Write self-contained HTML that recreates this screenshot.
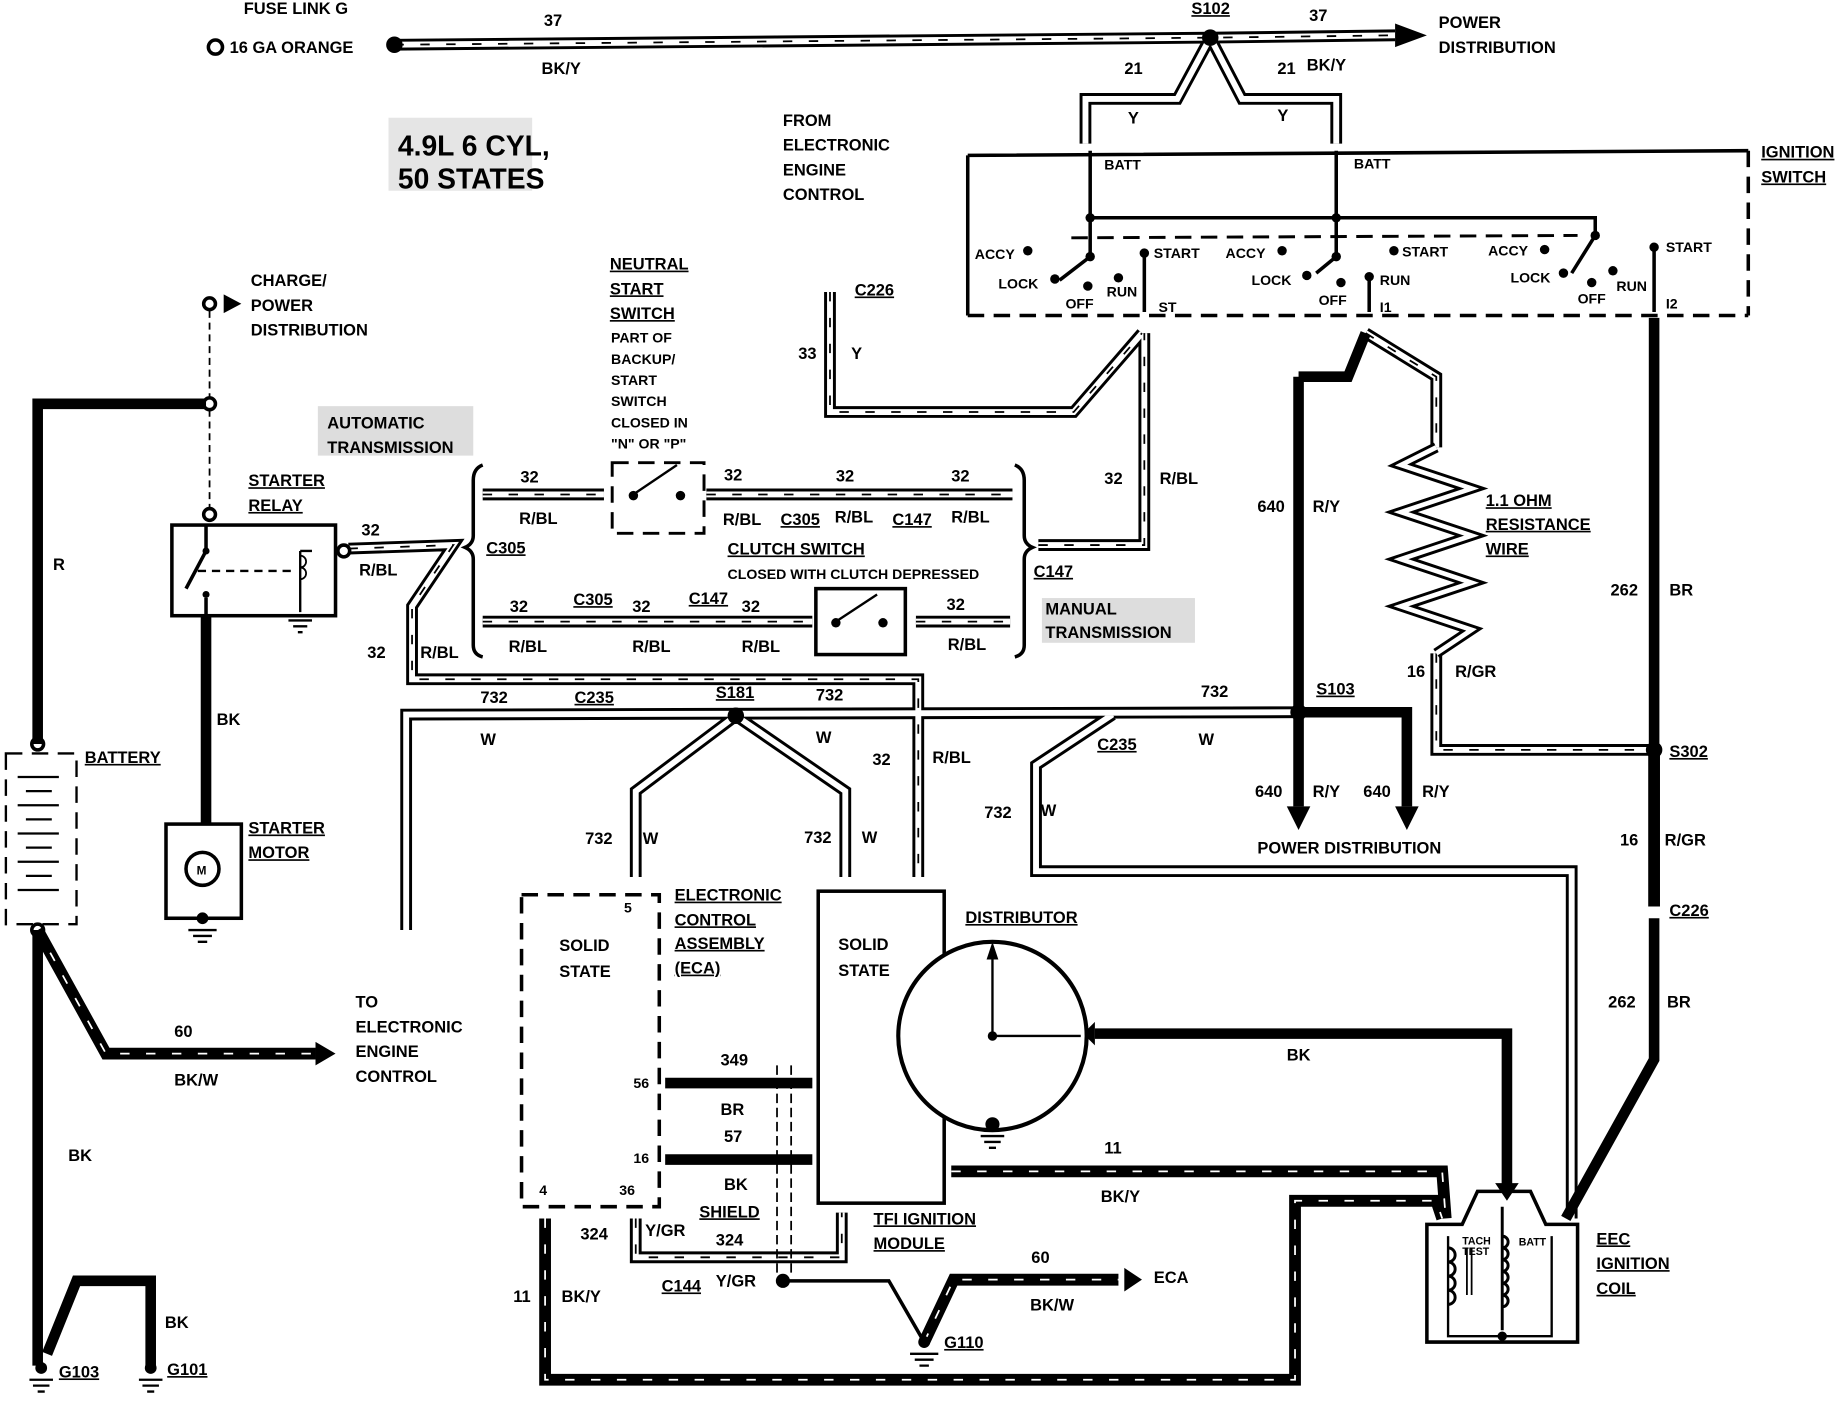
<!DOCTYPE html>
<html><head><meta charset="utf-8"><style>
html,body{margin:0;padding:0;background:#fff}
svg{display:block}
text{font-family:"Liberation Sans",sans-serif;font-weight:bold;font-size:14px;fill:#000}
path{fill:none}
.w{fill:none;stroke:#000;stroke-width:9;stroke-linejoin:miter}
.so{fill:none;stroke:#000;stroke-width:10;stroke-linejoin:miter}
.si{fill:none;stroke:#fff;stroke-width:5;stroke-linejoin:miter}
.sd{fill:none;stroke:#000;stroke-width:1.5;stroke-dasharray:8 14}
.wd{fill:none;stroke:#fff;stroke-width:1.5;stroke-dasharray:8 14}
.l{fill:none;stroke:#000;stroke-width:3}
.d{fill:none;stroke:#000;stroke-width:3;stroke-dasharray:14 8}
.t{fill:none;stroke:#000;stroke-width:1.5}
.u{text-decoration:underline}
.f{fill:#000}
</style></head><body>
<svg width="1846" height="1408" viewBox="0 0 1568 1196" preserveAspectRatio="none" xmlns="http://www.w3.org/2000/svg">
<defs>
<path id="p1" fill="none" d="M335,38 L1028,32 L1185,30"/>
<path id="p2" fill="none" d="M1028,32 L1000,84 L922,84 L922,122 M1028,32 L1055,84 L1135,84 L1135,122"/>
<path id="p3" fill="none" d="M296,466 L385,463 L350,515 L350,577 L780,577 L780,745"/>
<path id="p4" fill="none" d="M410,420 L513,420 M600,420 L860,420 M410,528 L690,528 M778,528 L858,528"/>
<path id="p5" fill="none" d="M882,463 L972,463 L972,283"/>
<path id="p6" fill="none" d="M705,248 L705,350 L912,350 L970,283"/>
<path id="p7" fill="none" d="M345,790 L345,607 L1103,605 M625,608 L540,672 L540,745 M625,608 L718,672 L718,745 M945,607 L880,650 L880,740 L1335,740 L1335,1035"/>
<path id="p8" fill="none" d="M1160,283 L1220,320 L1220,380 M1220,555 L1220,637 L1405,637 L1405,770"/>
<path id="p9" fill="none" d="M540,1035 L540,1068 L715,1068 L715,1030"/>
<path id="p10" fill="none" d="M808,995 L1225,995 L1228,1035"/>
<path id="p11" fill="none" d="M463,1035 L463,1172 L1100,1172 L1100,1020 L1220,1020 L1225,1035"/>
<path id="p12" fill="none" d="M785,1140 L810,1087 L950,1087"/>
<path id="p13" fill="none" d="M32,790 L90,895 L268,895"/>
</defs>
<g class="so"><use href="#p1"/><use href="#p2"/><use href="#p3"/><use href="#p4"/><use href="#p5"/><use href="#p6"/><use href="#p7"/><use href="#p8"/><use href="#p9"/><use href="#p10"/><use href="#p11"/><use href="#p12"/><use href="#p13"/></g>
<g class="si"><use href="#p1"/><use href="#p2"/><use href="#p3"/><use href="#p4"/><use href="#p5"/><use href="#p6"/><use href="#p7"/><use href="#p8"/><use href="#p9"/></g>
<g class="sd"><use href="#p1"/><use href="#p3"/><use href="#p4"/><use href="#p5"/><use href="#p6"/><use href="#p8"/><use href="#p9"/></g>
<g class="wd"><use href="#p10"/><use href="#p11"/><use href="#p12"/><use href="#p13"/></g>
<!-- solid thick wires -->
<path class="w" d="M32,632 L32,343 L175,343"/>
<path class="w" d="M175,523 L175,700"/>
<path class="w" d="M32,790 L32,1160 M40,1150 L65,1088 L128,1088 L128,1160"/>
<path class="w" d="M1103,320 L1103,685 M1103,605 L1195,605 L1195,685 M1103,320 L1145,320 L1160,283"/>
<path class="w" d="M1405,270 L1405,770 M1405,780 L1405,900 L1330,1035"/>
<path class="w" d="M930,878 L1280,878 L1280,1010"/>
<path class="w" d="M565,920 L690,920 M565,985 L690,985"/>
<!-- arrowheads -->
<path class="f" d="M1185,20 L1212,30 L1185,40 Z M1093,685 L1103,705 L1113,685 Z M1185,685 L1195,705 L1205,685 Z M268,885 L268,905 L285,895 Z M955,1077 L955,1097 L970,1087 Z M1270,1005 L1280,1020 L1290,1005 Z M930,868 L920,878 L930,888 Z M190,250 L205,258 L190,266 Z"/>
<!-- top -->
<circle class="l" cx="183" cy="40" r="6" fill="#fff"/><circle cx="335" cy="38" r="7"/><circle cx="1028" cy="32" r="7"/>
<text x="207" y="12">FUSE LINK G</text><text x="195" y="45">16 GA ORANGE</text>
<text x="462" y="22">37</text><text x="460" y="63">BK/Y</text>
<text x="1012" y="12" class="u">S102</text><text x="1112" y="18">37</text><text x="1110" y="60">BK/Y</text>
<text x="1222" y="24">POWER</text><text x="1222" y="45">DISTRIBUTION</text>
<text x="955" y="63">21</text><text x="1085" y="63">21</text><text x="958" y="105">Y</text><text x="1085" y="103">Y</text>
<rect x="330" y="100" width="122" height="62" fill="#ccc" opacity="0.5"/>
<text x="338" y="132" style="font-size:24px">4.9L 6 CYL,</text><text x="338" y="160" style="font-size:24px">50 STATES</text>
<text x="665" y="107">FROM</text><text x="665" y="128">ELECTRONIC</text><text x="665" y="149">ENGINE</text><text x="665" y="170">CONTROL</text>
<!-- ignition switch -->
<path class="l" d="M822,132 L1485,128 M822,132 L822,268"/>
<path class="d" d="M822,268 L1485,268 M1485,128 L1485,268"/>
<path class="l" d="M926,128 L926,185 L1355,185 L1355,200 M1135,128 L1135,185"/>
<path class="l" d="M926,185 L926,218 L900,238 M1135,185 L1135,218 L1118,232 M1355,200 L1335,232"/>
<path class="d" d="M910,202 L1340,200" style="stroke-width:2.5"/>
<path class="l" d="M972,215 L972,265 M1163,235 L1163,265 M1405,210 L1405,265"/>
<g><circle cx="926" cy="185" r="4"/><circle cx="926" cy="218" r="4"/><circle cx="1135" cy="185" r="4"/><circle cx="1135" cy="218" r="4"/><circle cx="1355" cy="200" r="4"/>
<circle cx="873" cy="213" r="4"/><circle cx="896" cy="237" r="4"/><circle cx="924" cy="243" r="4"/><circle cx="950" cy="236" r="4"/><circle cx="972" cy="215" r="4"/>
<circle cx="1089" cy="213" r="4"/><circle cx="1110" cy="234" r="4"/><circle cx="1139" cy="240" r="4"/><circle cx="1163" cy="235" r="4"/><circle cx="1184" cy="213" r="4"/>
<circle cx="1312" cy="212" r="4"/><circle cx="1328" cy="232" r="4"/><circle cx="1352" cy="240" r="4"/><circle cx="1370" cy="230" r="4"/><circle cx="1405" cy="210" r="4"/></g>
<g><text x="938" y="144" style="font-size:12px">BATT</text><text x="1150" y="143" style="font-size:12px">BATT</text>
<text x="828" y="220" style="font-size:12px">ACCY</text><text x="848" y="245" style="font-size:12px">LOCK</text><text x="905" y="262" style="font-size:12px">OFF</text><text x="940" y="252" style="font-size:12px">RUN</text><text x="980" y="219" style="font-size:12px">START</text><text x="984" y="265" style="font-size:12px">ST</text>
<text x="1041" y="219" style="font-size:12px">ACCY</text><text x="1063" y="242" style="font-size:12px">LOCK</text><text x="1120" y="259" style="font-size:12px">OFF</text><text x="1172" y="242" style="font-size:12px">RUN</text><text x="1191" y="218" style="font-size:12px">START</text><text x="1172" y="265" style="font-size:12px">I1</text>
<text x="1264" y="217" style="font-size:12px">ACCY</text><text x="1283" y="240" style="font-size:12px">LOCK</text><text x="1340" y="258" style="font-size:12px">OFF</text><text x="1373" y="247" style="font-size:12px">RUN</text><text x="1415" y="214" style="font-size:12px">START</text><text x="1415" y="262" style="font-size:12px">I2</text></g>
<text x="1496" y="134" class="u">IGNITION</text><text x="1496" y="155" class="u">SWITCH</text>
<!-- C226 Y -->
<text x="726" y="251" class="u">C226</text><text x="678" y="305">33</text><text x="723" y="305">Y</text>
<!-- left -->
<circle class="l" cx="178" cy="258" r="5" fill="#fff"/><path d="M178,264 L178,338 M178,348 L178,432" stroke="#000" stroke-width="1.5" stroke-dasharray="6 4"/>
<circle class="l" cx="178" cy="343" r="5" fill="#fff"/><circle class="l" cx="178" cy="437" r="5" fill="#fff"/>
<text x="213" y="243">CHARGE/</text><text x="213" y="264">POWER</text><text x="213" y="285">DISTRIBUTION</text>
<text x="45" y="484">R</text>
<rect x="270" y="345" width="132" height="42" fill="#ddd"/>
<text x="278" y="364">AUTOMATIC</text><text x="278" y="385">TRANSMISSION</text>
<text x="211" y="413" class="u">STARTER</text><text x="211" y="434" class="u">RELAY</text>
<rect class="l" x="146" y="446" width="139" height="77" fill="none"/>
<circle class="l" cx="292" cy="468" r="5" fill="#fff"/>
<path class="l" d="M175,446 L175,468 L158,500 M175,508 L175,523"/>
<circle cx="175" cy="468" r="3"/><circle cx="175" cy="505" r="3"/>
<path d="M168,485 L250,485" stroke="#000" stroke-width="2" stroke-dasharray="7 5"/>
<path class="l" d="M255,468 L265,468 M255,468 L255,520 M245,527 L265,527 M249,532 L261,532 M253,537 L257,537" style="stroke-width:2"/>
<path class="t" d="M255,472 a5,5 0 0 1 0,10 a5,5 0 0 1 0,10"/>
<text x="307" y="455">32</text><text x="305" y="489">R/BL</text>
<text x="312" y="559">32</text><text x="357" y="559">R/BL</text>
<text x="184" y="616">BK</text>
<!-- battery -->
<rect x="5" y="640" width="60" height="145" fill="none" stroke="#000" stroke-width="2" stroke-dasharray="14 8"/>
<circle class="l" cx="32" cy="632" r="5" fill="#fff"/><circle class="l" cx="32" cy="790" r="5" fill="#fff"/>
<path d="M15,660 H50 M22,672 H44 M15,684 H50 M22,696 H44 M15,708 H50 M22,720 H44 M15,732 H50 M22,744 H44 M15,756 H50" stroke="#000" stroke-width="2"/>
<text x="72" y="648" class="u">BATTERY</text>
<!-- starter motor -->
<rect class="l" x="141" y="700" width="64" height="80" fill="#fff"/>
<circle class="l" cx="172" cy="738" r="14" fill="#fff"/><text x="167" y="743" style="font-size:10px">M</text>
<circle cx="172" cy="780" r="5"/><path d="M160,790 H184 M164,795 H180 M168,800 H176" stroke="#000" stroke-width="2"/>
<text x="211" y="708" class="u">STARTER</text><text x="211" y="729" class="u">MOTOR</text>
<text x="148" y="881">60</text><text x="148" y="922">BK/W</text>
<text x="302" y="856">TO</text><text x="302" y="877">ELECTRONIC</text><text x="302" y="898">ENGINE</text><text x="302" y="919">CONTROL</text>
<text x="58" y="986">BK</text><text x="140" y="1128">BK</text>
<circle cx="35" cy="1162" r="5"/><circle cx="128" cy="1162" r="5"/>
<path d="M25,1172 H45 M28,1177 H42 M32,1182 H38 M118,1172 H138 M121,1177 H135 M125,1182 H131" stroke="#000" stroke-width="2"/>
<text x="50" y="1170" class="u">G103</text><text x="142" y="1168" class="u">G101</text>
<!-- brackets & switches -->
<path class="l" d="M410,395 Q402,398 402,408 L402,455 Q402,462 395,465 Q402,468 402,475 L402,548 Q402,556 410,558"/>
<path class="l" d="M862,395 Q870,398 870,408 L870,455 Q870,462 877,465 Q870,468 870,475 L870,548 Q870,556 862,558"/>
<text x="413" y="470" class="u">C305</text>
<rect x="520" y="393" width="78" height="60" fill="#fff" stroke="#000" stroke-width="2.5" stroke-dasharray="14 8"/>
<path d="M538,420 L575,395" stroke="#000" stroke-width="2"/><circle cx="538" cy="421" r="4"/><circle cx="578" cy="421" r="4"/>
<text x="518" y="229" class="u">NEUTRAL</text><text x="518" y="250" class="u">START</text><text x="518" y="271" class="u">SWITCH</text>
<g><text x="519" y="291" style="font-size:12px">PART OF</text><text x="519" y="309" style="font-size:12px">BACKUP/</text><text x="519" y="327" style="font-size:12px">START</text><text x="519" y="345" style="font-size:12px">SWITCH</text><text x="519" y="363" style="font-size:12px">CLOSED IN</text><text x="519" y="381" style="font-size:12px">"N" OR "P"</text></g>
<text x="442" y="410">32</text><text x="441" y="445">R/BL</text>
<text x="615" y="408">32</text><text x="614" y="446">R/BL</text><text x="663" y="446" class="u">C305</text>
<text x="710" y="409">32</text><text x="709" y="444">R/BL</text><text x="758" y="446" class="u">C147</text>
<text x="808" y="409">32</text><text x="808" y="444">R/BL</text>
<text x="618" y="471" class="u">CLUTCH SWITCH</text><text x="618" y="492" style="font-size:12px">CLOSED WITH CLUTCH DEPRESSED</text>
<rect class="l" x="693" y="500" width="76" height="56" fill="#fff"/>
<path d="M710,528 L745,505" stroke="#000" stroke-width="2"/><circle cx="710" cy="529" r="4"/><circle cx="750" cy="529" r="4"/>
<text x="433" y="520">32</text><text x="432" y="554">R/BL</text><text x="487" y="514" class="u">C305</text>
<text x="537" y="520">32</text><text x="537" y="554">R/BL</text><text x="585" y="513" class="u">C147</text>
<text x="630" y="520">32</text><text x="630" y="554">R/BL</text>
<text x="804" y="518">32</text><text x="805" y="552">R/BL</text>
<text x="878" y="490" class="u">C147</text>
<rect x="885" y="508" width="130" height="38" fill="#ddd"/>
<text x="888" y="522">MANUAL</text><text x="888" y="542">TRANSMISSION</text>
<text x="938" y="411">32</text><text x="985" y="411">R/BL</text>
<!-- mid -->
<text x="408" y="597">732</text><text x="488" y="597" class="u">C235</text><text x="608" y="593" class="u">S181</text><text x="693" y="595">732</text>
<text x="408" y="633">W</text><text x="693" y="631">W</text><text x="741" y="650">32</text><text x="792" y="648">R/BL</text>
<circle cx="625" cy="608" r="7"/><circle cx="1103" cy="605" r="7"/><circle cx="1405" cy="637" r="7"/>
<text x="1020" y="592">732</text><text x="1118" y="590" class="u">S103</text><text x="1018" y="633">W</text><text x="932" y="637" class="u">C235</text>
<text x="836" y="695">732</text><text x="884" y="693">W</text>
<text x="497" y="717">732</text><text x="546" y="717">W</text><text x="683" y="716">732</text><text x="732" y="716">W</text>
<text x="1068" y="435">640</text><text x="1115" y="435">R/Y</text>
<text x="1066" y="677">640</text><text x="1115" y="677">R/Y</text><text x="1158" y="677">640</text><text x="1208" y="677">R/Y</text>
<text x="1068" y="725">POWER DISTRIBUTION</text>
<path d="M1220,380 L1190,395 L1250,415 L1190,435 L1250,455 L1190,475 L1250,495 L1190,515 L1250,535 L1220,555" stroke="#000" stroke-width="9" fill="none"/>
<path d="M1220,380 L1190,395 L1250,415 L1190,435 L1250,455 L1190,475 L1250,495 L1190,515 L1250,535 L1220,555" fill="none" stroke="#fff" stroke-width="4"/>
<text x="1262" y="430" class="u">1.1 OHM</text><text x="1262" y="450" class="u">RESISTANCE</text><text x="1262" y="471" class="u">WIRE</text>
<text x="1195" y="575">16</text><text x="1236" y="575">R/GR</text>
<text x="1368" y="506">262</text><text x="1418" y="506">BR</text>
<text x="1418" y="643" class="u">S302</text><text x="1376" y="718">16</text><text x="1414" y="718">R/GR</text>
<text x="1418" y="778" class="u">C226</text><text x="1366" y="856">262</text><text x="1416" y="856">BR</text>
<!-- ECA -->
<path class="d" d="M443,760 L560,760 L560,1025 L443,1025 Z"/>
<text x="530" y="775" style="font-size:12px">5</text>
<text x="475" y="808">SOLID</text><text x="475" y="830">STATE</text>
<text x="538" y="924" style="font-size:12px">56</text><text x="538" y="988" style="font-size:12px">16</text>
<text x="458" y="1015" style="font-size:12px">4</text><text x="526" y="1015" style="font-size:12px">36</text>
<text x="573" y="765" class="u">ELECTRONIC</text><text x="573" y="786" class="u">CONTROL</text><text x="573" y="806" class="u">ASSEMBLY</text><text x="573" y="827" class="u">(ECA)</text>
<rect class="l" x="695" y="757" width="107" height="265" fill="#fff"/>
<text x="712" y="807">SOLID</text><text x="712" y="829">STATE</text>
<text x="612" y="905">349</text><text x="612" y="947">BR</text><text x="615" y="970">57</text><text x="615" y="1011">BK</text>
<text x="594" y="1034" class="u">SHIELD</text>
<path d="M660,905 L660,1085 M672,905 L672,1085" stroke="#000" stroke-width="1.5" stroke-dasharray="8 4"/>
<text x="493" y="1053">324</text><text x="548" y="1050">Y/GR</text><text x="608" y="1058">324</text>
<text x="562" y="1097" class="u">C144</text><text x="608" y="1093">Y/GR</text>
<circle cx="665" cy="1088" r="6"/>
<path class="l" d="M665,1088 L755,1088 L785,1140"/>
<text x="742" y="1040" class="u">TFI IGNITION</text><text x="742" y="1061" class="u">MODULE</text>
<circle cx="785" cy="1140" r="5"/><path d="M773,1150 H797 M777,1155 H793 M781,1160 H789" stroke="#000" stroke-width="2"/>
<text x="802" y="1145" class="u">G110</text>
<text x="876" y="1073">60</text><text x="875" y="1113">BK/W</text><text x="980" y="1090">ECA</text>
<text x="436" y="1106">11</text><text x="477" y="1106">BK/Y</text>
<text x="938" y="980">11</text><text x="935" y="1021">BK/Y</text>
<text x="1093" y="901">BK</text>
<!-- distributor -->
<circle cx="843" cy="880" r="80" fill="#fff" stroke="#000" stroke-width="3.5"/>
<path d="M843,880 L843,808 M843,880 L918,880" stroke="#000" stroke-width="2"/><path class="f" d="M838,815 L843,800 L848,815 Z"/>
<circle cx="843" cy="880" r="4"/><circle cx="843" cy="955" r="6"/>
<path d="M833,965 H853 M836,970 H850 M840,975 H846" stroke="#000" stroke-width="2"/>
<text x="820" y="784" class="u">DISTRIBUTOR</text>
<!-- coil -->
<path d="M1212,1040 L1242,1040 L1255,1012 L1300,1012 L1313,1040 L1340,1040 L1340,1140 L1212,1140 Z" fill="#fff" stroke="#000" stroke-width="3"/>
<path class="l" d="M1230,1050 L1230,1135 L1318,1135 L1318,1050" style="stroke-width:2"/>
<path class="t" d="M1230,1060 a6,6 0 0 1 0,12 a6,6 0 0 1 0,12 a6,6 0 0 1 0,12 a6,6 0 0 1 0,12" style="stroke-width:2.5"/>
<path class="t" d="M1276,1025 L1276,1130 M1276,1050 a5,5 0 0 1 0,10 a5,5 0 0 1 0,10 a5,5 0 0 1 0,10 a5,5 0 0 1 0,10 a5,5 0 0 1 0,10 a5,5 0 0 1 0,10" style="stroke-width:2.5"/>
<path d="M1246,1060 V1100 M1250,1060 V1100" stroke="#000" stroke-width="1.5"/>
<circle cx="1276" cy="1135" r="4"/>
<text x="1242" y="1057" style="font-size:9px">TACH</text><text x="1242" y="1066" style="font-size:9px">TEST</text><text x="1290" y="1058" style="font-size:9px">BATT</text>
<text x="1356" y="1057" class="u">EEC</text><text x="1356" y="1078" class="u">IGNITION</text><text x="1356" y="1099" class="u">COIL</text>
</svg>
</body></html>
